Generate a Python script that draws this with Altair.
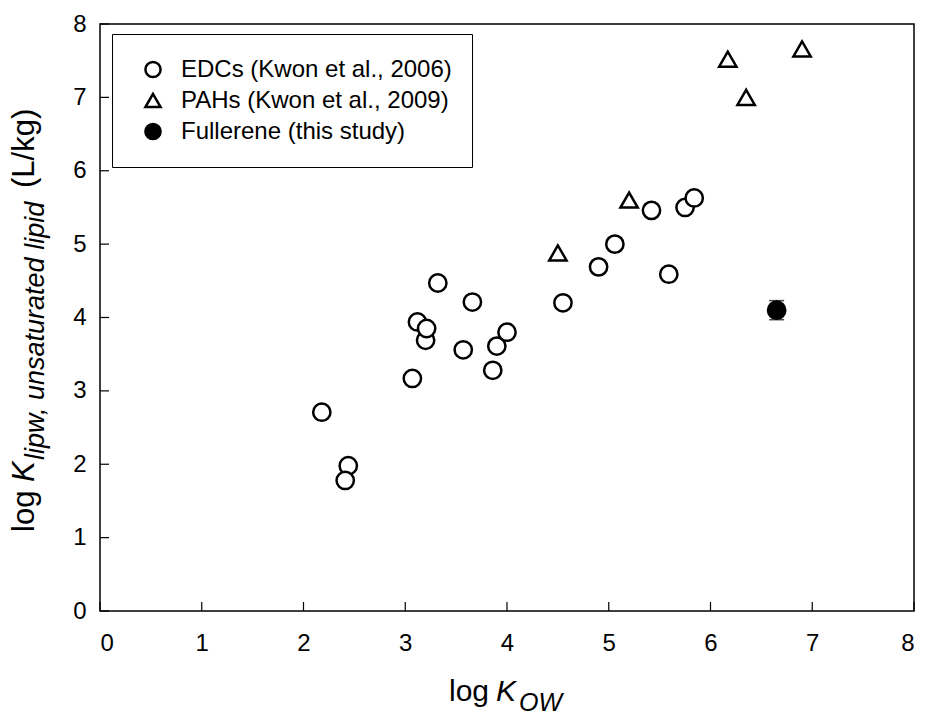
import altair as alt
import pandas as pd

# ---- data ----
edc_x = [2.18, 2.44, 2.41, 3.07, 3.12, 3.20, 3.21, 3.32, 3.57, 3.66, 3.86, 3.90, 4.00, 4.55, 4.90, 5.06, 5.42, 5.59, 5.75, 5.84]
edc_y = [2.71, 1.98, 1.78, 3.17, 3.94, 3.69, 3.85, 4.47, 3.56, 4.21, 3.28, 3.61, 3.80, 4.20, 4.69, 5.00, 5.46, 4.59, 5.50, 5.63]
pah_x = [4.50, 5.20, 6.17, 6.35, 6.90]
pah_y = [4.88, 5.60, 7.52, 7.00, 7.66]
ful_x = [6.65]
ful_y = [4.10]
ful_err = [0.13]
group_labels = ["EDCs (Kwon et al., 2006)", "PAHs (Kwon et al., 2009)", "Fullerene (this study)"]
group_shapes = ["circle", "triangle-up", "circle"]
group_fills = ["white", "white", "black"]
tick_values = [0, 1, 2, 3, 4, 5, 6, 7, 8]

FONT = "Liberation Sans"
W, H = 814, 587

rows = []
for x, y in zip(edc_x, edc_y):
    rows.append({"kow": x, "klip": y, "group": group_labels[0]})
for x, y in zip(pah_x, pah_y):
    rows.append({"kow": x, "klip": y, "group": group_labels[1]})
for x, y in zip(ful_x, ful_y):
    rows.append({"kow": x, "klip": y, "group": group_labels[2]})
df = pd.DataFrame(rows)
err_df = pd.DataFrame({"kow": ful_x,
                       "lo": [y - e for y, e in zip(ful_y, ful_err)],
                       "hi": [y + e for y, e in zip(ful_y, ful_err)]})
ticks_df = pd.DataFrame({"v": tick_values})

xs = alt.Scale(domain=[0, 8], nice=False, zero=False)
ys = alt.Scale(domain=[0, 8], nice=False, zero=False)

xaxis = alt.Axis(values=tick_values, format="d", ticks=False, grid=False, domain=False, title=None,
                 labelFont=FONT, labelFontSize=24, labelColor="black", labelPadding=20)
yaxis = alt.Axis(values=tick_values, format="d", ticks=False, grid=False, domain=False, title=None,
                 labelFont=FONT, labelFontSize=24, labelColor="black", labelPadding=14)

leg = alt.Legend(title=None, orient="none", legendX=12, legendY=10, padding=20,
                 strokeColor="black", fillColor="white",
                 labelFont=FONT, labelFontSize=24, labelColor="black", labelLimit=600,
                 symbolSize=230, symbolStrokeWidth=2.5, symbolStrokeColor="black",
                 symbolOffset=9, labelOffset=16, clipHeight=31, rowPadding=0)

err_rule = alt.Chart(err_df).mark_rule(color="black", strokeWidth=1.5).encode(
    x=alt.X("kow:Q", scale=xs, axis=xaxis),
    y=alt.Y("lo:Q", scale=ys, axis=yaxis),
    y2="hi:Q",
)
err_lo = alt.Chart(err_df).mark_tick(color="black", orient="horizontal", size=15, thickness=1.5).encode(
    x=alt.X("kow:Q", scale=xs), y=alt.Y("lo:Q", scale=ys))
err_hi = alt.Chart(err_df).mark_tick(color="black", orient="horizontal", size=15, thickness=1.5).encode(
    x=alt.X("kow:Q", scale=xs), y=alt.Y("hi:Q", scale=ys))

points = alt.Chart(df).mark_point(size=300, strokeWidth=2.5, opacity=1, fillOpacity=1).encode(
    x=alt.X("kow:Q", scale=xs),
    y=alt.Y("klip:Q", scale=ys),
    shape=alt.Shape("group:N", scale=alt.Scale(domain=group_labels, range=group_shapes), legend=leg),
    fill=alt.Fill("group:N", scale=alt.Scale(domain=group_labels, range=group_fills), legend=leg),
    stroke=alt.Stroke("group:N", scale=alt.Scale(domain=group_labels, range=["black", "black", "black"]), legend=leg),
)

xticks = alt.Chart(ticks_df).mark_rule(color="black", strokeWidth=1.2).encode(
    x=alt.X("v:Q", scale=xs), y=alt.value(H), y2=alt.value(H - 9))
yticks = alt.Chart(ticks_df).mark_rule(color="black", strokeWidth=1.2).encode(
    y=alt.Y("v:Q", scale=ys), x=alt.value(0), x2=alt.value(9))

one = pd.DataFrame({"t": [""]})

def piece(txt, x, y, size, italic=False, angle=0):
    kw = dict(font=FONT, fontSize=size, color="black", align="left", baseline="alphabetic")
    if italic:
        kw["fontStyle"] = "italic"
    if angle:
        kw["angle"] = angle
    return alt.Chart(one).mark_text(**kw).encode(
        x=alt.value(x), y=alt.value(y), text=alt.value(txt))

xtitle = [
    piece("log", 349, 677, 30),
    piece("K", 396, 677, 30, italic=True),
    piece("OW", 419, 687, 25, italic=True),
]
ytitle = [
    piece("log", -66, 508, 31, angle=270),
    piece("K", -66, 458, 31, italic=True, angle=270),
    piece("lipw, unsaturated lipid", -56, 436, 27, italic=True, angle=270),
    piece("(L/kg)", -66, 164, 31, angle=270),
]

chart = alt.layer(err_rule, err_lo, err_hi, points, xticks, yticks, *xtitle, *ytitle).properties(
    width=W, height=H,
    autosize=alt.AutoSizeParams(type="none"),
    padding={"left": 100, "top": 24, "right": 11, "bottom": 104},
    background="white",
).configure_view(stroke="black", strokeWidth=1.5).configure_axis(labelFont=FONT)

chart.save("out.html", embed_options={"renderer": "svg", "actions": False})
